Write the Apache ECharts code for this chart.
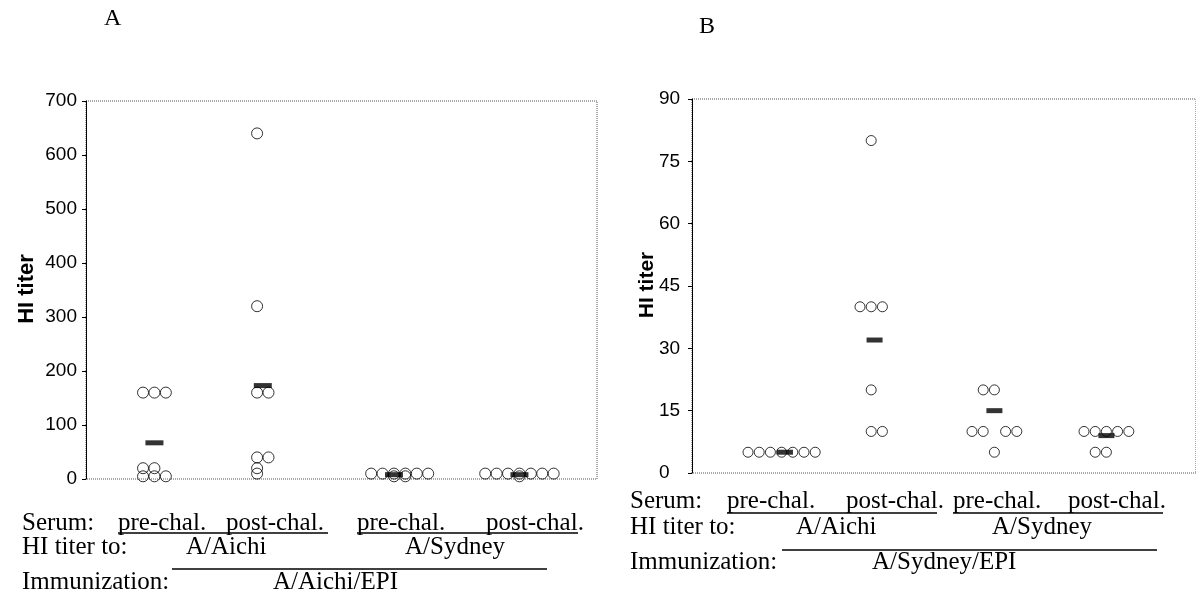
<!DOCTYPE html>
<html>
<head>
<meta charset="utf-8">
<script src="https://cdn.jsdelivr.net/npm/echarts@6/dist/echarts.min.js"></script>
<style>
  html, body { margin: 0; background: #fff; }
  #chart { width: 1196px; height: 597px; }
</style>
</head>
<body>
<div id="chart"></div>
<script>
// Panel A: mice immunized with A/Aichi/EPI, HI titer per mouse
// slot = column of the dot inside the dot plot
const aPreAichi = [160, 160, 160, 20, 20, 5, 5, 5];
const aPreAichiSlot = [5, 6, 7, 5, 6, 5, 6, 7];
const aPostAichi = [640, 320, 160, 160, 40, 40, 20, 10];
const aPostAichiSlot = [15, 15, 15, 16, 15, 16, 15, 15];
const aPreSydney = [10, 10, 10, 10, 10, 10, 5, 5];
const aPreSydneySlot = [25, 26, 27, 28, 29, 30, 27, 28];
const aPostSydney = [10, 10, 10, 10, 10, 10, 10, 5];
const aPostSydneySlot = [35, 36, 37, 38, 39, 40, 41, 38];
const aMeans = [67, 173, 8, 8];
const aMeanSlot = [6, 15.5, 27, 38];
const aTicks = [0, 100, 200, 300, 400, 500, 600, 700];

// Panel B: mice immunized with A/Sydney/EPI
const bPreAichi = [5, 5, 5, 5, 5, 5, 5];
const bPreAichiSlot = [5, 6, 7, 8, 9, 10, 11];
const bPostAichi = [80, 40, 40, 40, 20, 10, 10];
const bPostAichiSlot = [16, 15, 16, 17, 16, 16, 17];
const bPreSydney = [20, 20, 10, 10, 10, 10, 5];
const bPreSydneySlot = [26, 27, 25, 26, 28, 29, 27];
const bPostSydney = [10, 10, 10, 10, 10, 5, 5];
const bPostSydneySlot = [35, 36, 37, 38, 39, 36, 37];
const bMeans = [5, 32, 15, 9];
const bMeanSlot = [8.3, 16.3, 27, 37];
const bTicks = [0, 15, 30, 45, 60, 75, 90];

const serif = '"Liberation Serif", "Times New Roman", serif';
const sans = '"Liberation Sans", Arial, sans-serif';

function dots(panel, slots, titers) {
  return {
    type: "scatter",
    xAxisIndex: panel,
    yAxisIndex: panel,
    symbol: "circle",
    symbolSize: panel === 0 ? 11 : 10,
    data: slots.map((s, i) => [s, titers[i]]),
    itemStyle: { color: "rgba(0,0,0,0)", borderColor: "#000", borderWidth: 1 },
    silent: true,
    z: 2
  };
}

function means(panel, slots, values) {
  return {
    type: "scatter",
    xAxisIndex: panel,
    yAxisIndex: panel,
    symbol: "rect",
    symbolSize: panel === 0 ? [18, 5] : [16, 5],
    data: slots.map((s, i) => [s, values[i]]),
    itemStyle: { color: "#000" },
    silent: true,
    z: 3
  };
}

function yAxis(panel, ticks, margin, align) {
  return {
    type: "value",
    gridIndex: panel,
    min: ticks[0],
    max: ticks[ticks.length - 1],
    interval: ticks[1] - ticks[0],
    axisLine: { show: true, lineStyle: { color: "#000", width: 1 } },
    axisTick: { show: true, length: 4, lineStyle: { color: "#000" } },
    axisLabel: { color: "#000", fontFamily: sans, fontSize: 19, margin: margin, align: align },
    splitLine: { show: false }
  };
}

function txt(str, x, y, size, extra) {
  return Object.assign({
    type: "text",
    x: x,
    y: y,
    silent: true,
    style: {
      text: str,
      font: (size || 25) + "px " + serif,
      fill: "#000",
      textAlign: "left",
      textVerticalAlign: "middle"
    }
  }, extra || {});
}

function rule(x1, x2, y) {
  return {
    type: "line",
    silent: true,
    shape: { x1: x1, y1: y, x2: x2, y2: y },
    style: { stroke: "#000", lineWidth: 1.6 }
  };
}

function yTitle(x, y, size) {
  return {
    type: "text",
    x: x,
    y: y,
    rotation: Math.PI / 2,
    silent: true,
    style: {
      text: "HI titer",
      font: "bold " + size + "px " + sans,
      fill: "#000",
      textAlign: "center",
      textVerticalAlign: "middle"
    }
  };
}

const chart = echarts.init(document.getElementById("chart"));
const gridStyle = { show: true, borderColor: "#555", borderWidth: 1, borderType: "dotted", backgroundColor: "#fff" };

chart.setOption({
  animation: false,
  backgroundColor: "#fff",
  grid: [
    Object.assign({ left: 86, top: 101, right: 599, bottom: 118 }, gridStyle),
    Object.assign({ left: 692, top: 99, right: -3, bottom: 124 }, gridStyle)
  ],
  xAxis: [
    { type: "value", gridIndex: 0, min: 0, max: 44.8, show: false },
    { type: "value", gridIndex: 1, min: 0, max: 45, show: false }
  ],
  yAxis: [yAxis(0, aTicks, 9, "right"), yAxis(1, bTicks, 33, "left")],
  series: [
    dots(0, aPreAichiSlot, aPreAichi),
    dots(0, aPostAichiSlot, aPostAichi),
    dots(0, aPreSydneySlot, aPreSydney),
    dots(0, aPostSydneySlot, aPostSydney),
    means(0, aMeanSlot, aMeans),
    dots(1, bPreAichiSlot, bPreAichi),
    dots(1, bPostAichiSlot, bPostAichi),
    dots(1, bPreSydneySlot, bPreSydney),
    dots(1, bPostSydneySlot, bPostSydney),
    means(1, bMeanSlot, bMeans)
  ],
  graphic: [
    // panel letters
    txt("A", 104, 19, 24),
    txt("B", 699, 27, 24),
    yTitle(27, 289, 22),
    yTitle(647, 285, 21),

    // panel A legend rows
    txt("Serum:", 22, 523),
    txt("pre-chal.", 118, 523),
    txt("post-chal.", 226, 523),
    txt("pre-chal.", 357, 523),
    txt("post-chal.", 486, 523),
    rule(118, 328, 533),
    rule(357, 578, 533),
    txt("HI titer to:", 22, 547),
    txt("A/Aichi", 186, 547),
    txt("A/Sydney", 405, 547),
    rule(172, 547, 569),
    txt("Immunization:", 22, 582),
    txt("A/Aichi/EPI", 273, 582),

    // panel B legend rows
    txt("Serum:", 630, 501),
    txt("pre-chal.", 727, 501),
    txt("post-chal.", 846, 501),
    txt("pre-chal.", 953, 501),
    txt("post-chal.", 1068, 501),
    rule(727, 937, 513),
    rule(953, 1163, 513),
    txt("HI titer to:", 630, 527),
    txt("A/Aichi", 796, 527),
    txt("A/Sydney", 992, 527),
    rule(782, 1157, 550),
    txt("Immunization:", 630, 562),
    txt("A/Sydney/EPI", 872, 562)
  ]
});
</script>
</body>
</html>
